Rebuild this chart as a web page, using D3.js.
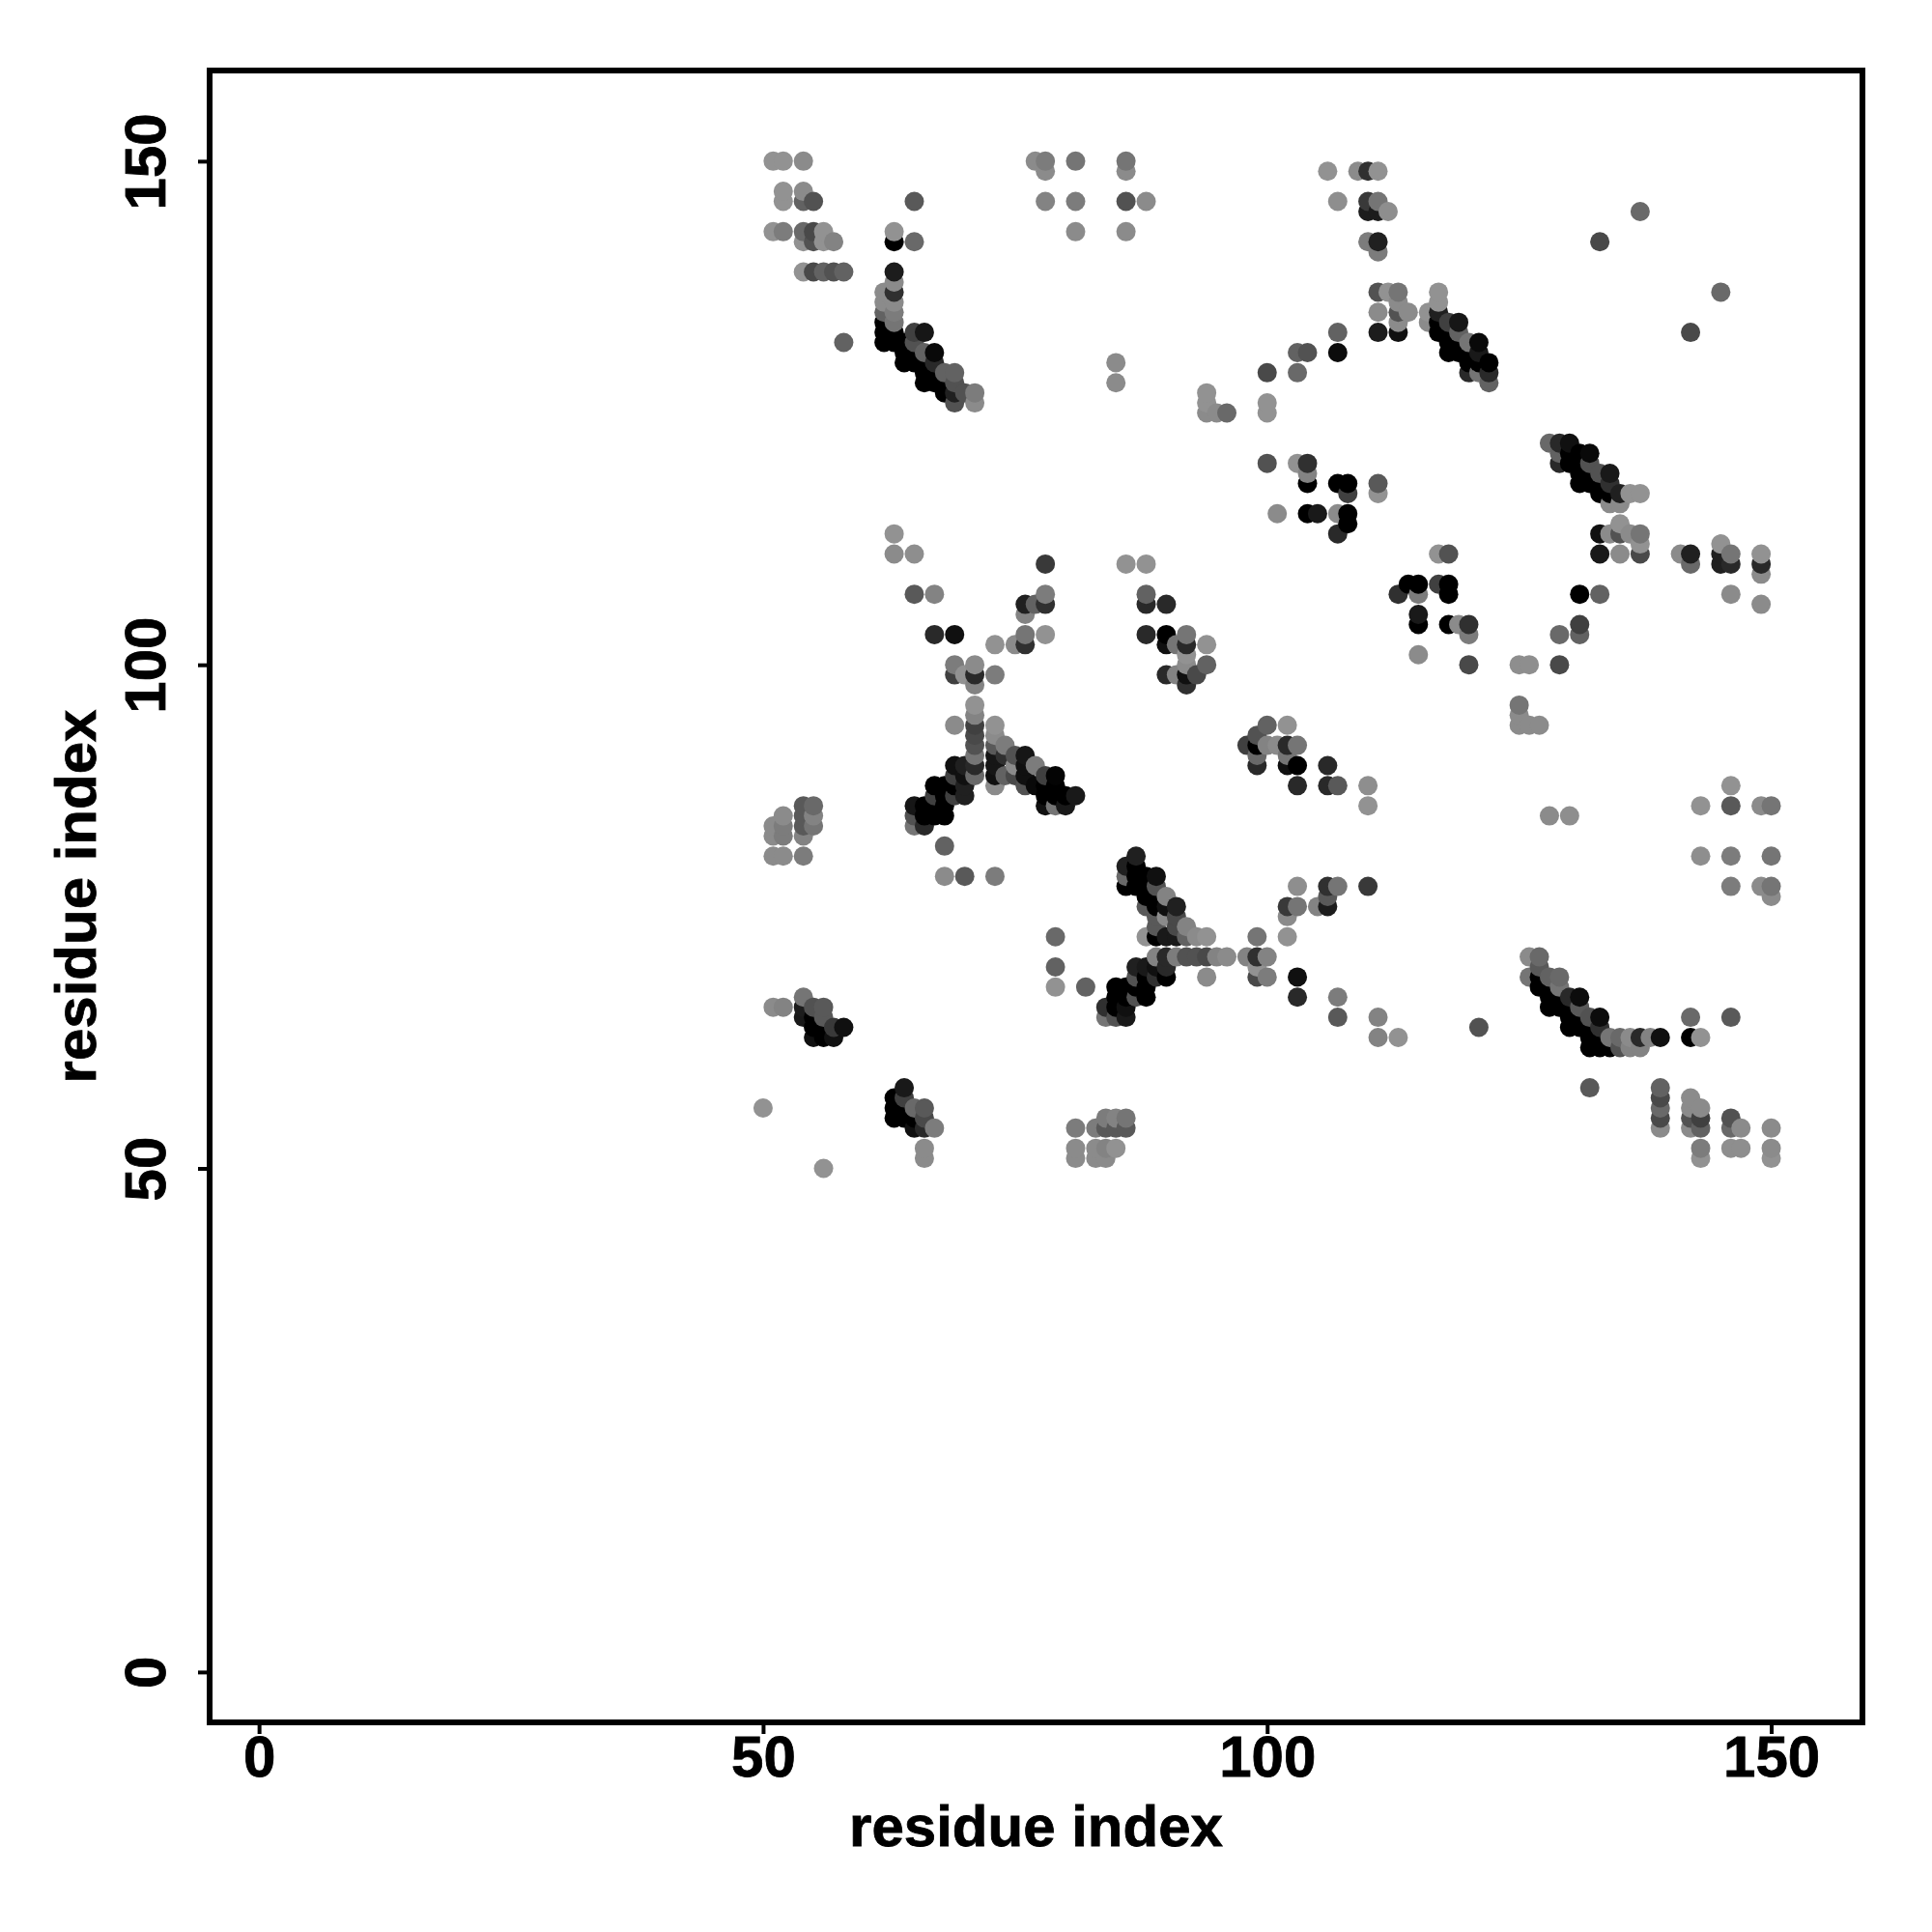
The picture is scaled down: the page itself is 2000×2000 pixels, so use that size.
<!DOCTYPE html>
<html><head><meta charset="utf-8">
<script src="https://cdn.jsdelivr.net/npm/d3@7"></script>
<style>html,body{margin:0;padding:0;background:#fff}svg{display:block}text{font-family:"Liberation Sans",sans-serif;font-weight:bold;fill:#000;stroke:#000;stroke-width:0.8px}</style>
</head><body><div id="c"></div>
<script>
const xTicks=[0,50,100,150];
const yTicks=[0,50,100,150];
const xTitle="residue index";
const yTitle="residue index";
const xDomain=[-4.9,159.05];
const yDomain=[-5,159];
// [residue x, residue y, contact score 0..100]
const contactsTop=[
[51,150,0],[52,150,0],[54,150,5],[77,150,5],[78,150,15],[78,149,5],[81,150,20],[86,150,20],[86,149,5],
[52,147,0],[52,146,0],[54,147,5],[54,146,33],[55,146,44],[65,146,39],[78,146,10],[81,146,15],[86,146,44],[88,146,5],
[51,143,0],[52,143,15],[54,143,28],[55,143,50],[56,143,0],[63,143,0],[81,143,5],[86,143,5],
[54,142,0],[55,142,44],[56,142,0],[57,142,10],[63,142,100],[65,142,28],
[54,139,0],[55,139,50],[56,139,33],[57,139,44],[58,139,33],[63,139,81],[63,138,5],[62,137,5],[63,137,67],[62,136,5],[63,136,5],
[62,135,33],[63,135,15],[62,134,100],[63,134,20],[62,133,100],[63,133,100],[65,133,56],[66,133,85],
[58,132,33],[62,132,100],[63,132,100],[64,132,100],[65,132,44],
[64,131,100],[65,131,100],[66,131,33],[67,131,94],[64,130,100],[65,130,100],[66,130,100],[67,130,72],
[66,129,100],[67,129,100],[68,129,33],[69,129,33],[66,128,100],[67,128,100],[68,128,100],[69,128,44],
[68,127,100],[69,127,78],[70,127,44],[71,127,15],[69,126,44],[71,126,5],
[85,130,5],[85,128,5],[94,127,0],[94,126,0],[94,125,5],[95,125,5],[96,125,28],
[106,149,0],[109,149,5],[110,149,67],[111,149,0],
[107,146,3],[110,146,61],[111,146,20],[110,145,81],[111,145,81],[112,145,3],
[110,142,15],[111,142,78],[111,141,15],
[111,137,44],[112,137,0],[113,137,20],[117,137,0],[145,137,28],[113,136,5],[117,136,0],
[111,135,5],[113,135,44],[114,135,5],[116,135,0],[117,135,78],
[113,134,5],[116,134,5],[117,134,100],[118,134,56],[119,134,85],
[107,133,33],[111,133,81],[113,133,89],[117,133,100],[118,133,100],[119,133,33],[142,133,50],
[118,132,100],[119,132,100],[120,132,20],[121,132,94],
[103,131,33],[104,131,44],[107,131,92],[118,131,100],[119,131,100],[120,131,100],[121,131,83],
[120,130,100],[121,130,100],[122,130,100],
[100,129,50],[103,129,28],[120,129,72],[121,129,20],[122,129,72],[122,128,33],[100,126,0],[100,125,0],
[137,145,28],[133,142,50]
];
const contactsMiddle=[
[128,122,28],[129,122,72],[130,122,89],[129,121,33],[130,121,100],[131,121,100],[132,121,94],
[100,120,44],[103,120,0],[104,120,67],[129,120,72],[130,120,100],[131,120,100],[132,120,44],
[104,119,10],[131,119,100],[132,119,100],[133,119,44],[134,119,83],
[104,118,100],[107,118,100],[108,118,100],[111,118,39],[131,118,100],[132,118,100],[133,118,100],[134,118,67],
[108,117,56],[111,117,0],[133,117,100],[134,117,100],[135,117,78],[136,117,0],[137,117,0],
[134,116,5],[135,116,5],
[101,115,5],[104,115,100],[105,115,83],[107,115,5],[108,115,100],[108,114,100],[135,114,0],
[107,113,72],[133,113,89],[134,113,5],[135,113,44],[136,113,5],[137,113,20],[137,112,0],
[117,111,0],[118,111,44],[133,111,83],[135,111,5],[137,111,50],[141,111,5],[142,111,78],[145,112,0],[145,111,78],[146,111,20],[149,111,0],
[142,110,28],[145,110,78],[146,110,72],[149,110,72],[149,109,5],
[114,108,100],[115,108,100],[117,108,56],[118,108,100],
[113,107,67],[115,107,15],[118,107,100],[131,107,100],[133,107,33],[146,107,5],[149,106,5],
[115,105,83],[115,104,100],[118,104,100],[119,104,5],[120,104,67],[131,104,56],
[120,103,15],[129,103,28],[131,103,33],[115,101,5],
[120,100,50],[125,100,3],[126,100,3],[129,100,50],[125,96,20],[125,95,5],[125,94,5],[126,94,5],[127,94,5],
[100,94,33],[102,94,0],[99,93,44],[98,92,56],[99,92,100],[100,92,10],[101,92,5],[102,92,72],[103,92,20],
[99,91,28],[102,91,20],[99,90,72],[102,90,89],[103,90,100],[106,90,72],
[103,88,72],[106,88,72],[107,88,39],[110,88,3],[146,88,0],
[110,86,0],[143,86,0],[146,86,39],[149,86,5],[150,86,20],[128,85,5],[130,85,3],
[143,81,3],[146,81,15],[150,81,20],
[103,78,3],[106,78,67],[107,78,20],[110,78,61],[146,78,15],[149,78,5],[150,78,20],[106,77,39],[150,77,5],
[102,76,61],[103,76,20],[105,76,10],[106,76,81],[102,75,5]
];
const contactsCross=[
[63,113,0],[63,111,5],[65,111,3],[78,110,61],[86,110,0],[88,110,0],
[65,107,39],[67,107,10],[78,107,15],[88,107,33],[76,106,78],[77,106,33],[78,106,67],[88,106,72],[90,106,72],
[76,105,10],[67,103,72],[69,103,89],[76,103,20],[78,103,0],[88,103,72],[90,103,100],[92,103,20],
[73,102,0],[75,102,5],[76,102,67],[90,102,89],[91,102,20],[92,102,72],[94,102,0],[92,101,0],
[69,100,15],[71,100,5],[92,100,5],[94,100,33],
[69,99,56],[70,99,0],[71,99,72],[73,99,15],[90,99,72],[91,99,10],[92,99,89],[93,99,50],[71,98,10],[92,98,67],
[71,96,0],[71,95,10],[69,94,5],[71,94,56],[73,94,0],[71,93,50],[73,93,5],[71,92,44],[73,92,39],[74,92,15],
[71,91,20],[73,91,85],[74,91,67],[75,91,44],[76,91,85],
[69,90,89],[70,90,78],[71,90,72],[73,90,85],[75,90,5],[76,90,89],[77,90,15],
[69,89,56],[70,89,89],[71,89,28],[73,89,89],[74,89,33],[75,89,50],[76,89,89],[78,89,56],[79,89,97],
[67,88,100],[68,88,100],[69,88,100],[70,88,78],[73,88,5],[76,88,44],[77,88,94],[78,88,100],[79,88,100],
[67,87,56],[68,87,100],[69,87,56],[70,87,78],[78,87,100],[79,87,100],[80,87,100],[81,87,83],
[65,86,85],[66,86,100],[67,86,100],[68,86,100],[78,86,89],[79,86,20],[80,86,83],
[65,85,44],[66,85,100],[67,85,100],[68,85,100],[65,84,20],[66,84,72],
[68,82,33],[68,79,5],[70,79,39],[73,79,15],
[54,86,39],[55,86,28],[52,85,5],[54,85,39],[55,85,10],[51,84,5],[52,84,15],[54,84,39],[55,84,20],
[51,83,5],[52,83,15],[54,83,10],[51,81,5],[52,81,5],[54,81,15],
[87,81,78],[86,80,78],[87,80,100],[86,79,28],[87,79,100],[88,79,100],[89,79,89],
[86,78,100],[87,78,100],[88,78,100],[89,78,44],[88,77,100],[89,77,100],[90,77,10],
[88,76,39],[89,76,100],[90,76,89],[91,76,78],[89,75,39],[90,75,5],[91,75,50],[89,74,39],[91,74,50],[92,74,10],
[88,73,0],[89,73,100],[90,73,83],[91,73,83],[92,73,33],[93,73,5],[94,73,0],[99,73,20],[102,73,0],[79,73,28],
[79,70,33],[89,71,10],[90,71,72],[91,71,15],[92,71,44],[93,71,44],[94,71,50],[95,71,10],[96,71,5],[98,71,10],[99,71,67],[100,71,10],
[87,70,78],[88,70,83],[89,70,89],[90,70,72],[99,70,0],
[87,69,44],[88,69,100],[89,69,67],[90,69,100],[94,69,5],[99,69,50],[100,69,15],[103,69,89],
[79,68,0],[82,68,33],[85,68,100],[86,68,100],[87,68,100],[88,68,100],
[85,67,100],[86,67,100],[87,67,44],[88,67,100],[103,67,72],[107,67,15],
[84,66,67],[85,66,100],[86,66,89],[84,65,20],[85,65,44],[86,65,83],[107,65,39],[111,65,10],[111,63,10],[113,63,0]
];
const contactsBottom=[
[54,67,20],[51,66,5],[52,66,10],[54,66,81],[55,66,44],[56,66,39],[54,65,83],[55,65,100],[56,65,39],
[55,64,100],[56,64,100],[57,64,61],[58,64,89],[55,63,89],[56,63,100],[57,63,89],
[64,58,83],[63,57,100],[64,57,56],[50,56,0],[63,56,100],[64,56,100],[65,56,28],[66,56,39],
[63,55,100],[64,55,100],[65,55,100],[66,55,50],[65,54,89],[66,54,72],[67,54,15],
[81,54,15],[83,54,15],[84,54,39],[85,54,39],[86,54,39],[84,55,15],[85,55,10],[86,55,20],
[66,52,5],[81,52,5],[83,52,5],[84,52,10],[85,52,0],[66,51,5],[81,51,5],[83,51,5],[84,51,5],[56,50,0],
[126,71,5],[127,71,28],[127,70,39],[126,69,20],[127,69,100],[128,69,33],[129,69,28],
[127,68,100],[128,68,100],[129,68,20],[128,67,100],[129,67,100],[130,67,72],[131,67,92],
[128,66,100],[129,66,100],[130,66,100],[131,66,39],
[130,65,100],[131,65,100],[132,65,44],[133,65,92],[142,65,28],[146,65,39],
[130,64,100],[131,64,100],[132,64,100],[133,64,67],[121,64,44],
[132,63,100],[133,63,100],[134,63,20],[135,63,28],[136,63,5],[137,63,72],[138,63,10],[139,63,89],[142,63,100],[143,63,0],
[132,62,100],[133,62,100],[134,62,100],[135,62,44],[136,62,10],[137,62,10],
[132,58,39],[139,58,33],[139,57,50],[142,57,5],[139,56,28],[142,56,5],[143,56,5],
[139,55,50],[142,55,44],[143,55,56],[146,55,44],[139,54,5],[142,54,5],[143,54,33],[146,54,28],[147,54,5],[150,54,5],
[143,52,15],[146,52,3],[147,52,3],[150,52,5],[143,51,0],[150,51,0]
];

const W=2000,H=2000;
const frame={l:217,r:1928,t:73,b:1783};
const x=d3.scaleLinear().domain(xDomain).range([frame.l,frame.r]);
const y=d3.scaleLinear().domain(yDomain).range([frame.b,frame.t]);
const grey=d3.scaleLinear().domain([0,100]).range(["#929292","#000000"]);
const svg=d3.select("#c").append("svg").attr("width",W).attr("height",H);
svg.append("rect").attr("width",W).attr("height",H).attr("fill","#fff");

const contacts=[...contactsTop,...contactsMiddle,...contactsCross,...contactsBottom]
  .sort((a,b)=>a[0]-b[0]||a[1]-b[1]);
svg.append("g").selectAll("circle").data(contacts).join("circle")
  .attr("cx",d=>x(d[0])).attr("cy",d=>y(d[1])).attr("r",10).attr("fill",d=>grey(d[2]));

svg.append("rect").attr("x",frame.l).attr("y",frame.t)
  .attr("width",frame.r-frame.l).attr("height",frame.b-frame.t)
  .attr("fill","none").attr("stroke","#000").attr("stroke-width",6);

const gx=svg.append("g").attr("transform",`translate(0,${frame.b})`)
  .call(d3.axisBottom(x).tickValues(xTicks).tickFormat(d3.format("d")).tickSize(12).tickPadding(1));
const gy=svg.append("g").attr("transform",`translate(${frame.l},0)`)
  .call(d3.axisLeft(y).tickValues(yTicks).tickFormat(d3.format("d")).tickSize(12).tickPadding(0));
[gx,gy].forEach(g=>{g.select(".domain").remove();
  g.selectAll("line").attr("stroke","#000").attr("stroke-width",4);
  g.selectAll("text").attr("font-size",60).attr("font-family",'"Liberation Sans",sans-serif').attr("font-weight","bold").attr("fill","#000");});
gx.selectAll("text").attr("dy",null).attr("dominant-baseline","hanging");
gy.selectAll("text").attr("x",null).attr("dy",null).attr("text-anchor","middle")
  .attr("transform","translate(-62,0) rotate(-90)").attr("y",0).attr("dominant-baseline","middle");

svg.append("text").attr("x",(frame.l+frame.r)/2).attr("y",1911).attr("text-anchor","middle")
  .attr("font-size",60).text(xTitle);
svg.append("g").attr("transform",`translate(99,${(frame.t+frame.b)/2}) rotate(-90)`)
  .append("text").attr("text-anchor","middle").attr("font-size",60).text(yTitle);
</script></body></html>
